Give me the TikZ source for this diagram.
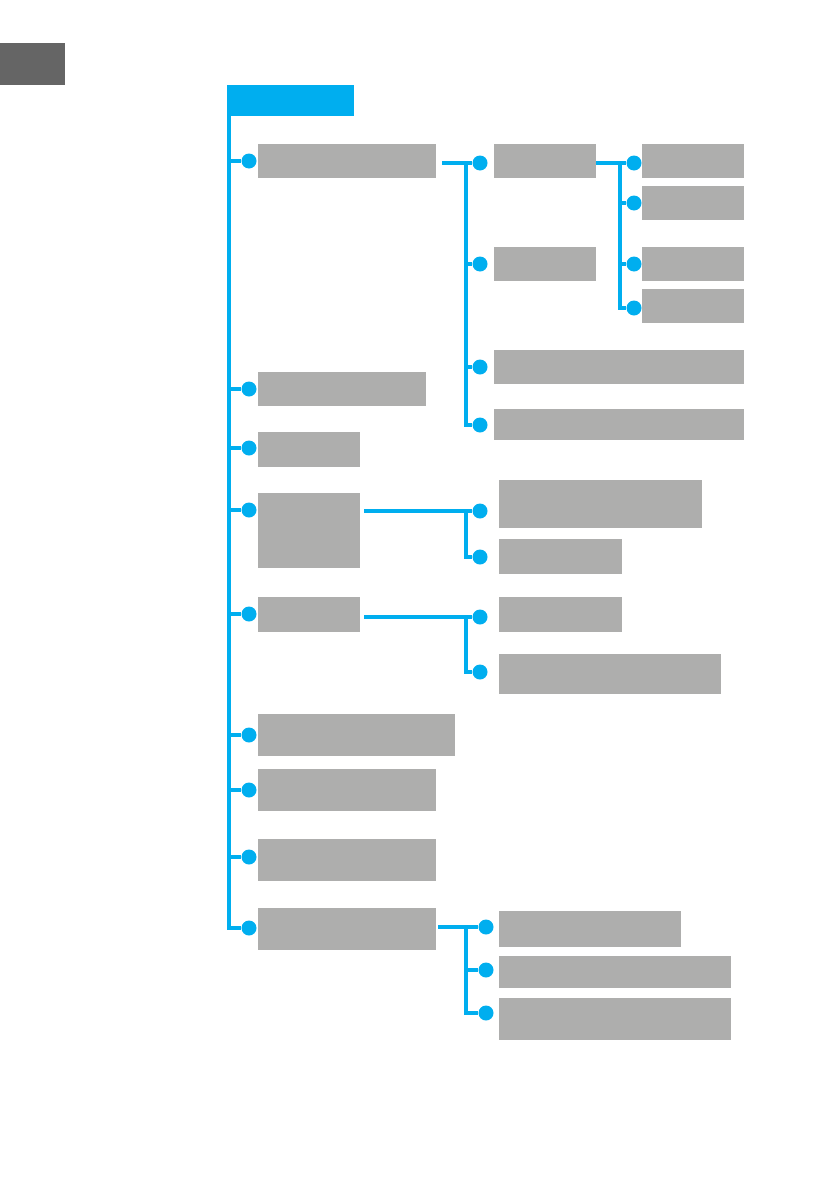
\documentclass[tikz,border=0pt]{standalone}
\usetikzlibrary{positioning}
\definecolor{menublue}{HTML}{00AEEF}
\definecolor{menugray}{HTML}{AEAEAD}
\definecolor{tabgray}{HTML}{656565}
\tikzset{
  box/.style={
    rectangle,
    fill=menugray,
    anchor=north west,
    inner sep=0pt
  },
  headbox/.style={
    rectangle,
    fill=menublue,
    anchor=north west,
    inner sep=0pt
  },
  dot/.style={
    circle,
    fill=menublue,
    inner sep=0pt,
    minimum size=15pt
  },
  link/.style={draw=menublue, line width=4pt}
}

\begin{document}
\begin{tikzpicture}[x=1pt,y=-1pt]
\useasboundingbox (0,0) rectangle (839,1191);
\node[box, fill=tabgray, minimum width=65pt, minimum height=42pt] (tab) at (0,43) {};
\node[headbox, minimum width=127pt, minimum height=31pt] (menu) at (227,85) {};

% main column
\node[box, minimum width=178pt, minimum height=34pt] (setup) at (258,144) {};
\node[box, minimum width=168pt, minimum height=34pt] (bright) at (258,372) {};
\node[box, minimum width=102pt, minimum height=35pt] (clock) at (258,432) {};
\node[box, minimum width=102pt, minimum height=75pt] (alarm) at (258,493) {};
\node[box, minimum width=102pt, minimum height=35pt] (sleep) at (258,597) {};
\node[box, minimum width=197pt, minimum height=42pt] (lang) at (258,714) {};
\node[box, minimum width=178pt, minimum height=42pt] (reset) at (258,769) {};
\node[box, minimum width=178pt, minimum height=42pt] (update) at (258,839) {};
\node[box, minimum width=178pt, minimum height=42pt] (info) at (258,908) {};

% setup branch
\node[box, minimum width=102pt, minimum height=34pt] (wifi) at (494,144) {};
\node[box, minimum width=102pt, minimum height=34pt] (lan) at (494,247) {};
\node[box, minimum width=250pt, minimum height=34pt] (netname) at (494,350) {};
\node[box, minimum width=250pt, minimum height=31pt] (netinfo) at (494,409) {};
\node[box, minimum width=102pt, minimum height=34pt] (wifia) at (642,144) {};
\node[box, minimum width=102pt, minimum height=34pt] (wifib) at (642,186) {};
\node[box, minimum width=102pt, minimum height=34pt] (wific) at (642,247) {};
\node[box, minimum width=102pt, minimum height=34pt] (wifid) at (642,289) {};

% alarm / sleep branches
\node[box, minimum width=203pt, minimum height=48pt] (alarmset) at (499,480) {};
\node[box, minimum width=123pt, minimum height=35pt] (alarmoff) at (499,539) {};
\node[box, minimum width=123pt, minimum height=35pt] (sleepset) at (499,597) {};
\node[box, minimum width=222pt, minimum height=40pt] (sleepoff) at (499,654) {};

% info branch
\node[box, minimum width=182pt, minimum height=36pt] (version) at (499,911) {};
\node[box, minimum width=232pt, minimum height=32pt] (ipaddr) at (499,956) {};
\node[box, minimum width=232pt, minimum height=42pt] (macaddr) at (499,998) {};

% dots
\node[dot] (dsetup) at (249,161) {};
\node[dot] (dbright) at (249,389) {};
\node[dot] (dclock) at (249,448) {};
\node[dot] (dalarm) at (249,510) {};
\node[dot] (dsleep) at (249,614) {};
\node[dot] (dlang) at (249,735) {};
\node[dot] (dreset) at (249,790) {};
\node[dot] (dupdate) at (249,857) {};
\node[dot] (dinfo) at (249,928) {};
\node[dot] (dwifi) at (480,163) {};
\node[dot] (dlan) at (480,264) {};
\node[dot] (dnetname) at (480,367) {};
\node[dot] (dnetinfo) at (480,425) {};
\node[dot] (dwifia) at (634,163) {};
\node[dot] (dwifib) at (634,203) {};
\node[dot] (dwific) at (634,264) {};
\node[dot] (dwifid) at (634,308) {};
\node[dot] (dalarmset) at (480,511) {};
\node[dot] (dalarmoff) at (480,557) {};
\node[dot] (dsleepset) at (480,617) {};
\node[dot] (dsleepoff) at (480,672) {};
\node[dot] (dversion) at (486,927) {};
\node[dot] (dipaddr) at (486,970) {};
\node[dot] (dmacaddr) at (486,1013) {};

\coordinate (trunk) at (229,116);
\coordinate (jsetup) at (466,163);
\coordinate (jwifi) at (620,163);
\coordinate (jalarm) at (466,511);
\coordinate (jsleep) at (466,617);
\coordinate (jinfo) at (466,927);

% main trunk
\draw[link] (trunk) |- (dinfo);
\draw[link] (dsetup -| trunk) -- (dsetup);
\draw[link] (dbright -| trunk) -- (dbright);
\draw[link] (dclock -| trunk) -- (dclock);
\draw[link] (dalarm -| trunk) -- (dalarm);
\draw[link] (dsleep -| trunk) -- (dsleep);
\draw[link] (dlang -| trunk) -- (dlang);
\draw[link] (dreset -| trunk) -- (dreset);
\draw[link] (dupdate -| trunk) -- (dupdate);

% setup
\draw[link] ([xshift=6pt]setup.east |- dwifi) -- (dwifi);
\draw[link] (jsetup) |- (dnetinfo);
\draw[link] (dlan -| jsetup) -- (dlan);
\draw[link] (dnetname -| jsetup) -- (dnetname);
\draw[link] (wifi.east |- dwifia) -- (dwifia);
\draw[link] (jwifi) |- (dwifid);
\draw[link] (dwifib -| jwifi) -- (dwifib);
\draw[link] (dwific -| jwifi) -- (dwific);

% alarm, sleep
\draw[link] ([xshift=4pt]alarm.east |- dalarmset) -- (dalarmset);
\draw[link] (jalarm) |- (dalarmoff);
\draw[link] ([xshift=4pt]sleep.east |- dsleepset) -- (dsleepset);
\draw[link] (jsleep) |- (dsleepoff);

% info
\draw[link] ([xshift=2pt]info.east |- dversion) -- (dversion);
\draw[link] (jinfo) |- (dmacaddr);
\draw[link] (dipaddr -| jinfo) -- (dipaddr);
\end{tikzpicture}
\end{document}
